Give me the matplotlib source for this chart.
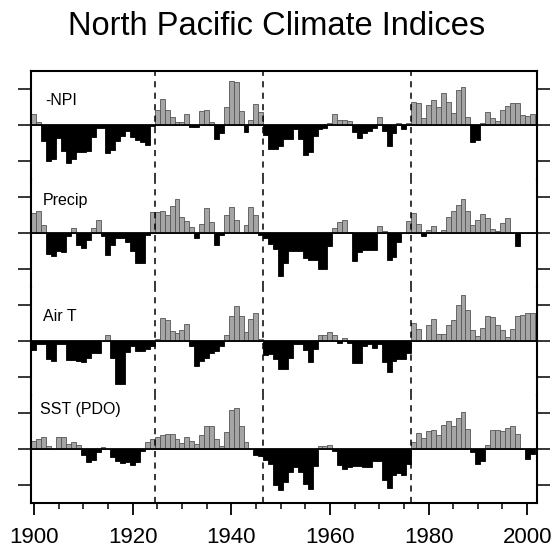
import numpy as np
import matplotlib
matplotlib.use("Agg")
import matplotlib.pyplot as plt
from matplotlib.ticker import MultipleLocator

plt.rcParams["font.family"] = ["Liberation Sans", "DejaVu Sans"]

# ---- data (annual index anomalies, 1900-2001) ---------------------------
years = np.arange(1900, 2002)

npi = [0.31, 0.08, -0.44, -1.00, -0.94, -0.37, -0.71, -1.06, -0.94, -0.76,
       -0.74, -0.71, -0.34, -0.08, -0.08, -0.79, -0.69, -0.45, -0.30, -0.18,
       -0.34, -0.41, -0.48, -0.55, -0.03, 0.42, 0.72, 0.43, 0.23, 0.07,
       0.09, 0.31, -0.05, -0.05, 0.39, 0.43, 0.07, -0.39, -0.23, 0.49,
       1.21, 1.20, 0.40, -0.19, 0.14, 0.57, 0.35, -0.27, -0.68, -0.68,
       -0.58, -0.38, -0.38, -0.12, -0.40, -0.83, -0.76, -0.30, -0.12, -0.07,
       0.06, 0.31, 0.14, 0.14, 0.11, -0.20, -0.35, -0.22, -0.18, -0.08,
       0.23, -0.17, -0.58, -0.21, 0.05, -0.10, 0.06, 0.65, 0.62, 0.20,
       0.56, 0.69, 0.51, 0.90, 0.64, 0.32, 0.98, 1.05, 0.21, -0.46,
       -0.43, 0.05, 0.37, 0.20, 0.11, 0.41, 0.53, 0.60, 0.62, 0.28,
       0.26, 0.31]

precip = [0.56, 0.60, 0.23, -0.58, -0.65, -0.49, -0.54, -0.07, 0.13, -0.33,
          -0.42, -0.19, 0.14, 0.36, -0.07, -0.60, -0.33, -0.15, -0.15, -0.26,
          -0.51, -0.84, -0.83, -0.06, 0.58, 0.59, 0.61, 0.50, 0.75, 0.94,
          0.45, 0.34, 0.16, -0.14, 0.25, 0.69, 0.30, -0.32, -0.05, 0.51,
          0.71, 0.37, 0.00, 0.21, 0.71, 0.50, -0.05, -0.15, -0.30, -0.44,
          -1.20, -0.82, -0.51, -0.51, -0.51, -0.69, -0.74, -0.74, -1.00, -1.00,
          -0.36, 0.15, 0.31, 0.37, 0.02, -0.79, -0.53, -0.46, -0.46, -0.46,
          0.19, 0.05, -0.76, -0.67, -0.25, 0.00, 0.32, 0.55, 0.24, -0.07,
          0.07, 0.19, 0.03, 0.09, 0.44, 0.60, 0.79, 0.95, 0.60, 0.21,
          0.35, 0.54, 0.43, 0.12, 0.05, 0.28, 0.42, 0.01, -0.37, 0.00,
          0.00, 0.00]

air_t = [-0.25, -0.09, -0.09, -0.51, -0.56, -0.09, -0.09, -0.53, -0.53, -0.56,
         -0.57, -0.46, -0.32, -0.32, 0.00, 0.17, -0.48, -1.20, -1.20, -0.30,
         -0.15, -0.27, -0.28, -0.22, -0.15, 0.05, 0.63, 0.57, 0.28, 0.23,
         0.31, 0.46, -0.15, -0.69, -0.56, -0.46, -0.32, -0.28, -0.14, 0.17,
         0.69, 0.97, 0.69, 0.26, 0.60, 0.77, 0.06, -0.40, -0.37, -0.50,
         -0.79, -0.79, -0.46, -0.09, -0.09, -0.26, -0.57, -0.23, 0.16, 0.17,
         0.26, 0.17, -0.05, 0.09, -0.06, -0.62, -0.60, -0.14, -0.09, -0.19,
         -0.09, -0.57, -0.86, -0.56, -0.49, -0.49, -0.32, 0.49, 0.32, 0.00,
         0.44, 0.62, 0.19, 0.19, 0.44, 0.57, 1.00, 1.27, 0.86, 0.31,
         0.14, 0.37, 0.69, 0.66, 0.44, 0.31, 0.11, 0.32, 0.69, 0.72,
         0.79, 0.79]

sst = [0.21, 0.29, 0.33, 0.09, 0.00, 0.33, 0.33, 0.13, 0.19, 0.12,
       -0.18, -0.36, -0.31, -0.08, 0.05, 0.00, -0.22, -0.34, -0.38, -0.36,
       -0.44, -0.36, -0.06, 0.19, 0.29, 0.33, 0.38, 0.42, 0.42, 0.29,
       0.18, 0.33, 0.23, 0.15, 0.40, 0.63, 0.63, 0.29, 0.09, 0.47,
       1.07, 1.14, 0.64, 0.19, 0.00, -0.18, -0.20, -0.30, -0.43, -1.00,
       -1.15, -0.92, -0.64, -0.50, -0.64, -0.98, -1.10, -0.48, 0.07, 0.07,
       0.10, -0.06, -0.45, -0.55, -0.50, -0.47, -0.47, -0.50, -0.50, -0.33,
       -0.33, -0.85, -1.07, -0.73, -0.66, -0.73, -0.43, 0.19, 0.44, 0.31,
       0.50, 0.52, 0.40, 0.68, 0.78, 0.64, 0.87, 1.03, 0.56, -0.08,
       -0.41, -0.34, 0.12, 0.52, 0.52, 0.50, 0.58, 0.63, 0.43, 0.00,
       -0.29, -0.15]

labels = ["-NPI", "Precip", "Air T", "SST (PDO)"]
label_x = [1902.3, 1901.8, 1901.8, 1901.2]
label_y = [0.67, 0.89, 0.69, 1.11]
shifts = [1924.5, 1946.5, 1976.5]

# ---- layout --------------------------------------------------------------
fig = plt.figure(figsize=(5.53, 5.57), dpi=100)
L, R, B, T = 31 / 553, 537 / 553, 1 - 503 / 557, 1 - 71 / 557
H = (T - B) / 4
SPW = 1.5

fig.text(0.5, 1 - 35 / 557, "North Pacific Climate Indices", fontsize=23.5,
         ha="center", va="baseline")

for k, (vals, lab, lx, ly) in enumerate(zip([npi, precip, air_t, sst],
                                            labels, label_x, label_y)):
    ax = fig.add_axes([L, T - (k + 1) * H, R - L, H])
    vals = np.asarray(vals)
    pos = vals >= 0
    ax.bar(years[pos], vals[pos], width=1.0, color="#a5a5a5",
           edgecolor="#555555", linewidth=0.6, zorder=2)
    ax.bar(years[~pos], vals[~pos], width=1.0, color="black",
           edgecolor="black", linewidth=0.6, zorder=2)
    ax.axhline(0, color="black", lw=1.3, zorder=3)
    for s in shifts:
        ax.axvline(s, color="black", lw=1.1, ls=(0, (4, 3.5)), zorder=4)
    ax.text(lx, ly, lab, fontsize=11.5, ha="left", va="center")

    ax.set_xlim(1899.4, 2002)
    ax.set_ylim(-1.5, 1.5)
    ax.set_yticks([-1, 0, 1])
    ax.set_yticklabels([])
    ax.tick_params(axis="y", which="major", direction="out", length=9.5,
                   width=1.1, left=True, right=True)
    for sp in ax.spines.values():
        sp.set_linewidth(SPW)
    if k > 0:
        ax.spines["top"].set_visible(False)
    if k < 3:
        ax.spines["bottom"].set_visible(False)
        ax.tick_params(axis="x", which="both", bottom=False, labelbottom=False)
    else:
        ax.xaxis.set_major_locator(MultipleLocator(20))
        ax.xaxis.set_minor_locator(MultipleLocator(5))
        ax.tick_params(axis="x", which="major", direction="out", length=8.6,
                       width=1.3, labelsize=16, pad=9)
        ax.tick_params(axis="x", which="minor", direction="out", length=4,
                       width=1.1)
    ax.set_facecolor("none")

fig.savefig("out.png", dpi=100, facecolor="white")
